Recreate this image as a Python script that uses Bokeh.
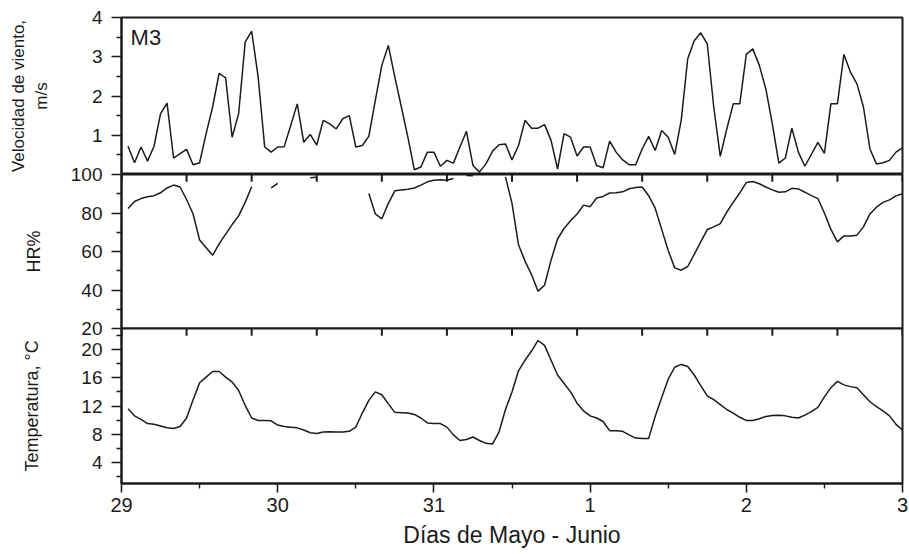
from bokeh.plotting import figure
from bokeh.models import Range1d, FixedTicker, Label, ColumnDataSource
from bokeh.layouts import column
from bokeh.embed import file_html
from bokeh.resources import INLINE
import numpy as np

# Hourly record, station M3, hours counted from 29 May 00:00
hours = list(range(1, 121))

wind_ms = [
    0.72, 0.30, 0.70, 0.34, 0.72, 1.55, 1.82, 0.42, 0.53, 0.64,
    0.25, 0.30, 1.04, 1.72, 2.58, 2.46, 0.95, 1.55, 3.37, 3.65,
    2.48, 0.70, 0.57, 0.70, 0.71, 1.25, 1.80, 0.82, 1.02, 0.75,
    1.38, 1.29, 1.16, 1.42, 1.50, 0.70, 0.74, 0.97, 1.89, 2.78,
    3.29, 2.48, 1.72, 0.95, 0.12, 0.19, 0.57, 0.57, 0.21, 0.36,
    0.29, 0.70, 1.10, 0.23, 0.06, 0.27, 0.59, 0.76, 0.78, 0.37,
    0.74, 1.38, 1.18, 1.18, 1.27, 0.87, 0.14, 1.04, 0.95, 0.47,
    0.70, 0.70, 0.23, 0.17, 0.85, 0.57, 0.37, 0.25, 0.25, 0.65,
    0.97, 0.61, 1.12, 0.95, 0.51, 1.38, 2.95, 3.41, 3.61, 3.33,
    1.72, 0.46, 1.16, 1.80, 1.80, 3.06, 3.20, 2.78, 2.18, 1.29,
    0.29, 0.42, 1.18, 0.57, 0.21, 0.51, 0.82, 0.54, 1.80, 1.80,
    3.06, 2.61, 2.31, 1.72, 0.65, 0.27, 0.30, 0.36, 0.57, 0.68,
]

nan = float("nan")
# relative humidity; gaps where the sensor gave no valid reading
hr_pct = [
    82.3, 86.0, 87.5, 88.4, 89.0, 90.5, 93.0, 94.5, 93.5, 87.0,
    79.5, 66.0, 62.0, 58.0, 64.0, 69.0, 74.0, 78.5, 85.5, 93.6,
    nan, nan, 93.1, 95.4, nan, nan, nan, nan, 98.3, 98.6,
    nan, nan, nan, nan, nan, nan, nan, 90.1, 79.5, 77.0,
    85.0, 91.5, 92.0, 92.3, 93.0, 94.5, 96.2, 97.0, 97.3, 97.0,
    97.9, nan, 99.5, 99.3, nan, nan, nan, nan, 98.8, 85.0,
    63.5, 55.0, 48.0, 39.4, 42.5, 55.5, 66.5, 72.0, 76.0, 79.5,
    84.1, 83.3, 87.8, 88.6, 90.4, 90.5, 91.0, 92.6, 93.2, 93.5,
    89.0, 82.5, 71.5, 60.5, 51.5, 50.3, 52.2, 58.5, 65.0, 71.4,
    72.8, 74.5, 80.5, 85.5, 90.5, 95.8, 96.4, 95.2, 93.5, 92.0,
    90.8, 91.0, 92.8, 92.5, 90.8, 89.0, 87.5, 80.0, 71.5, 65.0,
    68.1, 68.1, 68.5, 72.8, 79.5, 83.0, 85.5, 86.8, 88.9, 90.0,
]

temp_c = [
    11.6, 10.6, 10.1, 9.5, 9.4, 9.15, 8.9, 8.8, 9.1, 10.3,
    12.9, 15.3, 16.1, 16.9, 16.9, 16.1, 15.4, 14.2, 12.1, 10.3,
    9.95, 9.95, 9.9, 9.3, 9.1, 9.0, 8.9, 8.6, 8.2, 8.1,
    8.3, 8.35, 8.3, 8.3, 8.4, 9.0, 11.0, 12.8, 14.0, 13.6,
    12.3, 11.1, 11.05, 11.0, 10.8, 10.3, 9.6, 9.5, 9.5, 9.0,
    7.9, 7.1, 7.25, 7.6, 7.1, 6.7, 6.6, 8.3, 11.5, 14.0,
    17.0, 18.5, 19.8, 21.3, 20.6, 18.5, 16.4, 15.2, 14.0, 12.4,
    11.3, 10.6, 10.3, 9.8, 8.5, 8.5, 8.4, 7.9, 7.45, 7.4,
    7.4, 10.5, 13.2, 15.8, 17.5, 17.9, 17.6, 16.4, 14.9, 13.45,
    12.9, 12.2, 11.5, 11.0, 10.4, 9.95, 9.95, 10.2, 10.5, 10.65,
    10.7, 10.6, 10.4, 10.3, 10.7, 11.2, 11.8, 13.3, 14.6, 15.5,
    15.0, 14.75, 14.6, 13.6, 12.6, 11.9, 11.3, 10.6, 9.4, 8.6,
]

day_ticks = [0, 24, 48, 72, 96, 120]
day_labels = ["29", "30", "31", "1", "2", "3"]
half_day_ticks = [12, 36, 60, 84, 108]
ten_hour_ticks = list(range(0, 121, 10))

FONT = "Liberation Sans"
INK = "#1b1b1b"
W = 909

src = ColumnDataSource(dict(
    h=np.array(hours, dtype=float),
    wind=np.array(wind_ms, dtype=float),
    hr=np.array(hr_pct, dtype=float),
    temp=np.array(temp_c, dtype=float),
))

x_range = Range1d(0, 120)


def make_panel(height, y_range, top, bottom, margin_top, xloc=None):
    p = figure(width=W, height=height, x_range=x_range, y_range=y_range,
               x_axis_location=xloc,
               output_backend="svg", toolbar_location=None,
               min_border_left=121, min_border_right=7,
               min_border_top=top, min_border_bottom=bottom,
               margin=(margin_top, 0, 0, 0))
    p.grid.visible = False
    p.outline_line_color = INK
    p.outline_line_width = 2
    p.background_fill_color = "white"
    if margin_top != 0:
        p.border_fill_color = None
    return p


def style_axis(ax, major, minor, tick_len=10):
    ax.ticker = FixedTicker(ticks=major, minor_ticks=minor)
    ax.axis_line_color = INK
    ax.axis_line_width = 2
    ax.major_tick_line_color = INK
    ax.major_tick_line_width = 1.6
    ax.minor_tick_line_color = INK
    ax.minor_tick_line_width = 1.4
    ax.major_tick_out = tick_len
    ax.major_tick_in = 0
    ax.minor_tick_out = 5
    ax.minor_tick_in = 0
    ax.major_label_text_font = FONT
    ax.major_label_text_font_size = "19px"
    ax.major_label_text_color = INK
    ax.major_label_standoff = 9
    ax.axis_label_text_font = FONT
    ax.axis_label_text_font_size = "18px"
    ax.axis_label_text_font_style = "normal"
    ax.axis_label_text_color = INK


def add_boundary_ticks(p):
    # 10-hour marks hanging below the panel's upper edge; centred a hair
    # inside the frame so they are kept, the outer half is clipped away
    yr = p.y_range
    edge = yr.end - 0.002 * (yr.end - yr.start)
    p.scatter(x=ten_hour_ticks, y=[edge] * len(ten_hour_ticks),
              marker="dash", size=14, angle=np.pi / 2,
              line_color=INK, line_width=2)


# wind speed
p1 = make_panel(174, Range1d(0, 4), 17, 0, 0)
p1.line("h", "wind", source=src, line_color=INK, line_width=1.5)
style_axis(p1.yaxis[0], [1, 2, 3, 4], [0.5, 1.5, 2.5, 3.5])
p1.yaxis[0].axis_label = "Velocidad de viento,\nm/s"
p1.yaxis[0].axis_label_text_font_size = "17px"
p1.yaxis[0].axis_label_standoff = 38
p1.add_layout(Label(x=1.4, y=3.82, text="M3", text_baseline="top",
                    text_font=FONT, text_font_size="22px", text_color=INK))

# relative humidity
p2 = make_panel(178, Range1d(20, 100), 12, 12, -12)
p2.line("h", "hr", source=src, line_color=INK, line_width=1.5)
style_axis(p2.yaxis[0], [20, 40, 60, 80, 100], [30, 50, 70, 90])
p2.yaxis[0].axis_label = "HR%"
p2.yaxis[0].axis_label_standoff = 24
add_boundary_ticks(p2)

# air temperature
p3 = make_panel(238, Range1d(1, 23), 12, 71, -24, xloc="below")
p3.line("h", "temp", source=src, line_color=INK, line_width=1.5)
style_axis(p3.yaxis[0], [4, 8, 12, 16, 20], [2, 6, 10, 14, 18, 22])
p3.yaxis[0].axis_label = "Temperatura, °C"
p3.yaxis[0].axis_label_standoff = 36
xa = p3.xaxis[0]
style_axis(xa, day_ticks, half_day_ticks, tick_len=9)
xa.major_label_overrides = {t: lab for t, lab in zip(day_ticks, day_labels)}
xa.major_label_text_font_size = "20px"
xa.major_label_standoff = 5
xa.axis_label = "Días de Mayo - Junio"
xa.axis_label_text_font_size = "23px"
xa.axis_label_standoff = 7
add_boundary_ticks(p3)

layout = column(p1, p2, p3, spacing=0)
layout.margin = 0

with open("out.html", "w") as f:
    f.write(file_html(layout, INLINE))
